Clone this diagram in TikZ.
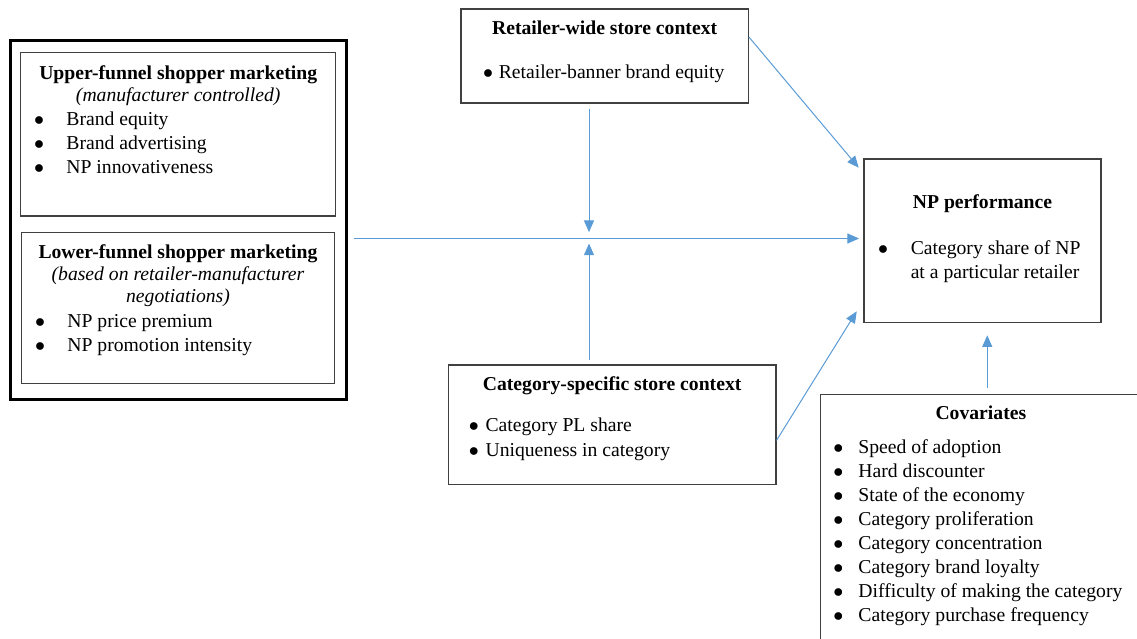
\documentclass[tikz,border=0pt]{standalone}
\usepackage{fontspec}
\setmainfont{Liberation Serif}
\usetikzlibrary{arrows.meta, positioning, fit, calc}
\definecolor{LinkBlue}{RGB}{91, 155, 213}
\definecolor{BoxGray}{RGB}{64, 64, 64}
\newcommand{\bul}[2]{\makebox[#1][l]{$\bullet$}#2}

\begin{document}
\begin{tikzpicture}[x=0.6pt, y=-0.6pt,
                    box/.style={rectangle, draw=BoxGray, line width=0.7pt, inner sep=0pt},
                    heading/.style={inner sep=0pt, align=center, font=\fontsize{11.8}{13.2}\selectfont, execute at begin node=\strut},
                    list/.style={inner sep=0pt, align=left, font=\fontsize{11.8}{14.4}\selectfont, execute at begin node=\strut},
                    link/.style={draw=LinkBlue, line width=0.6pt, -{Triangle[length=7pt, width=6pt]}}
                ]
                    \clip (0,0) rectangle (1137,639);

                    % boxes
                    \node[box, draw=black, line width=1.5pt, fit={(10.7,40.7) (346.7,399.3)}] (outer) {};
                    \node[box, fit={(20.7,52.7) (335.7,216)}] (upper) {};
                    \node[box, fit={(21.7,232.7) (334.3,383.3)}] (lower) {};
                    \node[box, fit={(461,9) (748.3,103)}] (retail) {};
                    \node[box, fit={(864,159) (1101,322.7)}] (perf) {};
                    \node[box, fit={(448.3,365) (776,484.3)}] (catg) {};
                    \node[box, fit={(820.7,394.3) (1141,650)}] (covar) {};

                    % texts
                    \node[heading, below=8.2pt of upper.north] (upperHead) {\textbf{Upper-funnel shopper marketing}\\ \textit{(manufacturer controlled)}};
                    \node[list, below right=35.5pt and 8.2pt of upper.north west] (upperList) {\bul{19.4pt}{Brand equity}\\ \bul{19.4pt}{Brand advertising}\\ \bul{19.4pt}{NP innovativeness}};

                    \node[heading, below=7.6pt of lower.north] (lowerHead) {\textbf{Lower-funnel shopper marketing}\\ \textit{(based on retailer-manufacturer}\\ \textit{negotiations)}};
                    \node[list, below right=49pt and 8.2pt of lower.north west] (lowerList) {\bul{19.4pt}{NP price premium}\\ \bul{19.4pt}{NP promotion intensity}};

                    \node[heading, below=6pt of retail.north] (retailHead) {\textbf{Retailer-wide store context}};
                    \node[list, below right=31.6pt and 13.4pt of retail.north west] (retailList) {\bul{9.4pt}{Retailer-banner brand equity}};

                    \node[heading, below=20.8pt of perf.north] (perfHead) {\textbf{NP performance}};
                    \node[list, below right=49.3pt and 8.6pt of perf.north west] (perfList) {\bul{19.6pt}{Category share of NP}\\ \hspace*{19.6pt}at a particular retailer};

                    \node[heading, below=6.4pt of catg.north] (catgHead) {\textbf{Category-specific store context}};
                    \node[list, below right=32pt and 12.5pt of catg.north west] (catgList) {\bul{10pt}{Category PL share}\\[0.6pt] \bul{10pt}{Uniqueness in category}};

                    \node[heading, below=6pt of covar.north] (covarHead) {\textbf{Covariates}};
                    \node[list, below right=27.6pt and 7.7pt of covar.north west] (covarList) {\bul{15.1pt}{Speed of adoption}\\ \bul{15.1pt}{Hard discounter}\\ \bul{15.1pt}{State of the economy}\\ \bul{15.1pt}{Category proliferation}\\ \bul{15.1pt}{Category concentration}\\ \bul{15.1pt}{Category brand loyalty}\\ \bul{15.1pt}{Difficulty of making the category}\\ \bul{15.1pt}{Category purchase frequency}};

                    % connectors
                    \coordinate (hub) at (589,238.5);
                    \coordinate (covTop) at ($(covar.north)+(6.4,0)$);
                    \draw[link, shorten <=3.6pt, shorten >=2.6pt] (outer.east |- hub) -- (perf.west |- hub);
                    \draw[link, shorten <=3pt, shorten >=3.8pt] (retail.south -| hub) -- (hub);
                    \draw[link, shorten <=2.4pt, shorten >=3pt] (catg.north -| hub) -- (hub);
                    \draw[link] ($(retail.north east)!0.3!(retail.south east)$) -- ($(perf.north west)+(-4.7,9.3)$);
                    \draw[link] ($(catg.north east)!0.63!(catg.south east)$) -- ($(perf.south west)+(-6.7,-12)$);
                    \draw[link, shorten <=3.6pt, shorten >=7.2pt] (covTop) -- (covTop |- perf.south);
                \end{tikzpicture}
\end{document}
